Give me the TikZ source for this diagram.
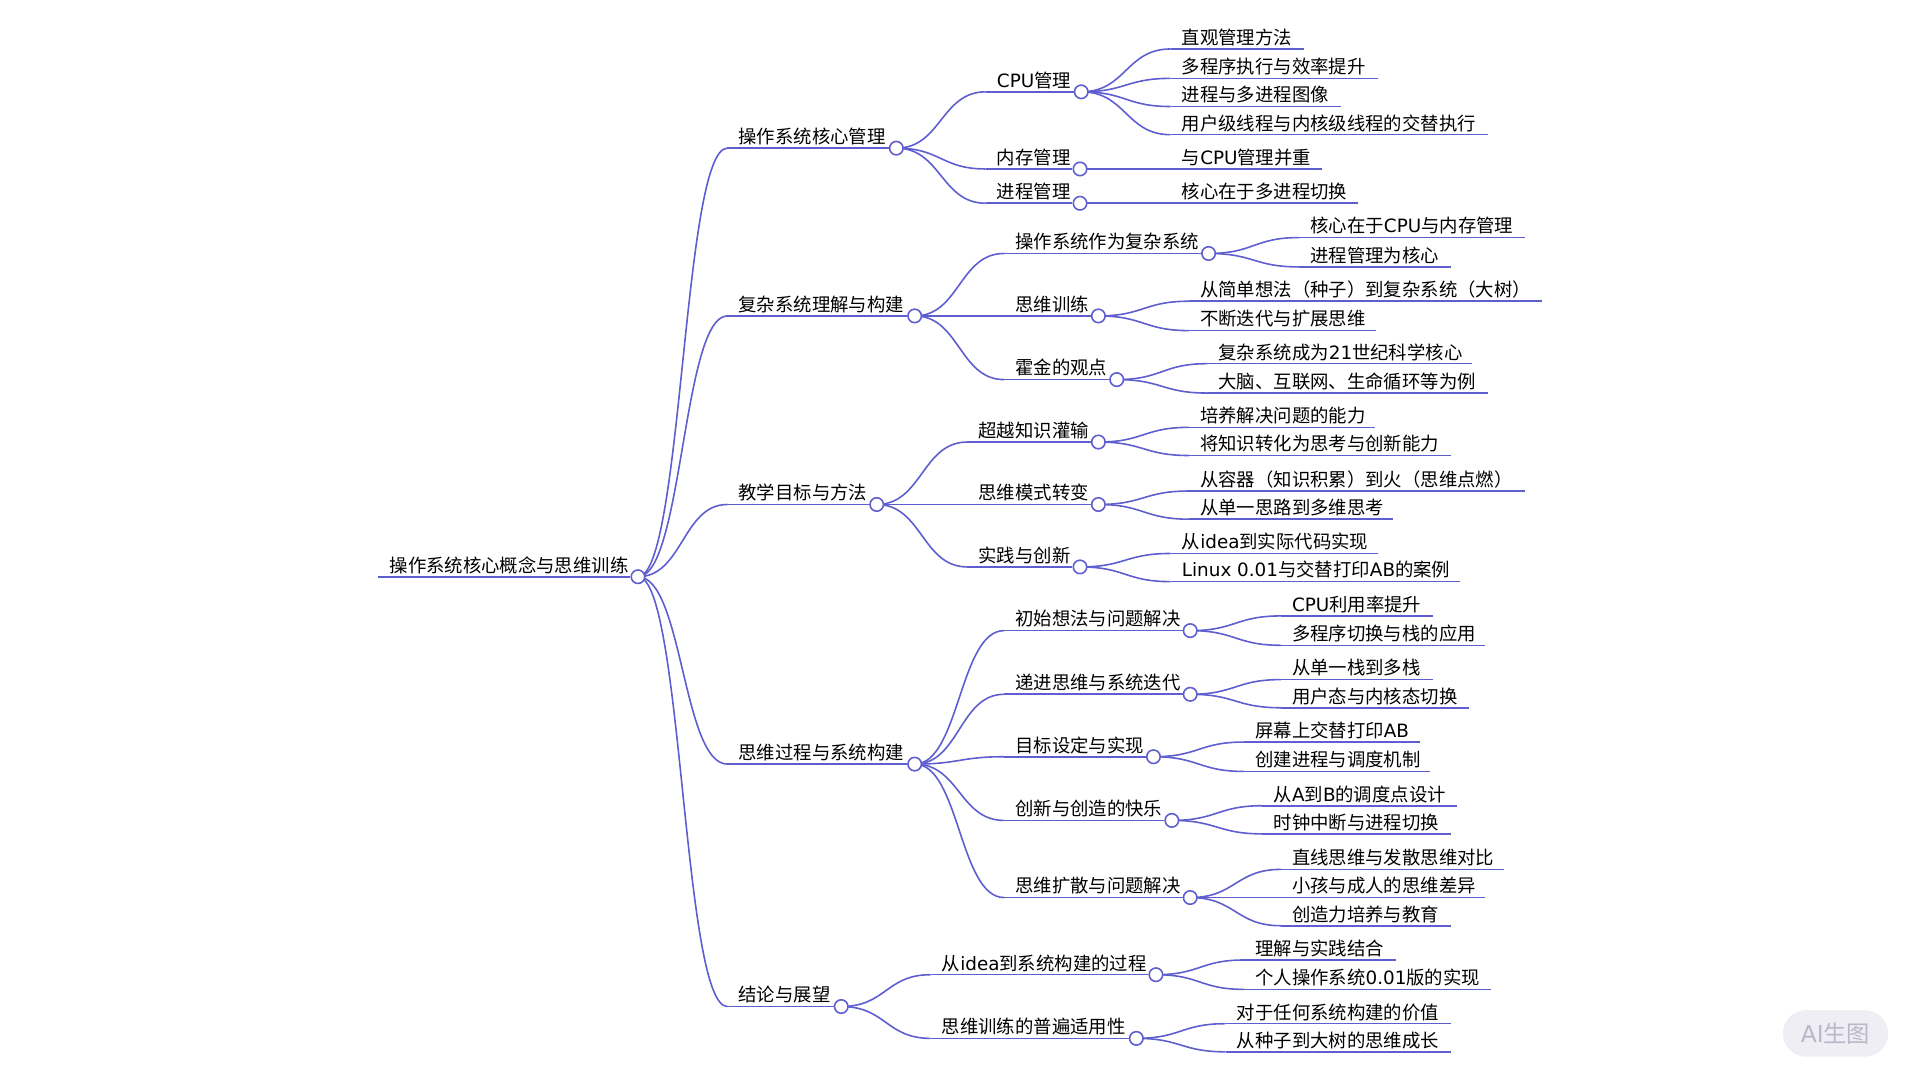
\documentclass[tikz,border=0pt]{standalone}
\usepackage{fontspec}
\usepackage{xcolor}
\usepackage{tikz}
\usetikzlibrary{calc}
\setmainfont{DejaVu Sans}
\newfontfamily\cjkfont{Noto Sans CJK SC}
\definecolor{mmblue}{RGB}{94,94,206}
\definecolor{wmfill}{RGB}{238,238,244}
\definecolor{wmtext}{RGB}{184,184,200}
\pgfdeclarelayer{bg}
\pgfsetlayers{bg,main}
% CJK characters take the CJK font
\XeTeXinterchartokenstate=1
\chardef\cjkclass=7
\newcount\cjkcode
\def\cjkrange#1#2{\cjkcode=#1 \loop\XeTeXcharclass\cjkcode=\cjkclass\ifnum\cjkcode<#2 \advance\cjkcode by 1 \repeat}
\cjkrange{"3000}{"303F}
\cjkrange{"4E00}{"9FFF}
\cjkrange{"FF00}{"FFEF}
\XeTeXinterchartoks 0 \cjkclass={\cjkfont}
\XeTeXinterchartoks 4095 \cjkclass={\cjkfont}
\XeTeXinterchartoks \cjkclass 0={\rmfamily}

\begin{document}
\begin{tikzpicture}[x=1pt,y=-1pt,
  mm/.style={draw=mmblue,line width=1.3pt},
  dot/.style={circle,mm,fill=white,inner sep=0pt,minimum size=11pt},
  lbl/.style={anchor=base west,inner sep=0pt,font=\fontsize{15}{18}\selectfont}]
\useasboundingbox (0,0) rectangle (1568,882);
% topics with a circle
\foreach \n/\tx/\xc/\y/\t in {
  root/318/521/471/操作系统核心概念与思维训练,
  a/603/732/121/操作系统核心管理,
  b/603/747/258/复杂系统理解与构建,
  c/603/716/412/教学目标与方法,
  d/603/747/624/思维过程与系统构建,
  e/603/687/822/结论与展望,
  a1/814/883/75/CPU管理,
  a2/814/882/138/内存管理,
  a3/814/882/166/进程管理,
  b1/829/987/207/操作系统作为复杂系统,
  b2/829/897/258/思维训练,
  b3/829/912/310/霍金的观点,
  c1/799/897/361/超越知识灌输,
  c2/799/897/412/思维模式转变,
  c3/799/882/463/实践与创新,
  d1/829/972/515/初始想法与问题解决,
  d2/829/972/567/递进思维与系统迭代,
  d3/829/942/618/目标设定与实现,
  d4/829/957/670/创新与创造的快乐,
  d5/829/972/733/思维扩散与问题解决,
  e1/769/944/796/从idea到系统构建的过程,
  e2/769/928/848/思维训练的普遍适用性}{
  \coordinate (\n-s) at (\tx-9,\y);
  \node[dot] (\n) at (\xc,\y) {};
  \draw[mm] (\n-s) -- (\n.west);
  \node[lbl] (\n-t) at (\tx,\y-3.8) {\t};
}
% leaves
\foreach \n/\tx/\xe/\y/\t in {
  a11/965/1065/40/直观管理方法,
  a12/965/1125/64/多程序执行与效率提升,
  a13/965/1095/87/进程与多进程图像,
  a14/965/1215/110/用户级线程与内核级线程的交替执行,
  a21/965/1080/138/与CPU管理并重,
  a31/965/1109/166/核心在于多进程切换,
  b11/1070/1245/194/核心在于CPU与内存管理,
  b12/1070/1185/218/进程管理为核心,
  b21/980/1259/246/从简单想法（种子）到复杂系统（大树）,
  b22/980/1124/270/不断迭代与扩展思维,
  b31/995/1202/297/复杂系统成为21世纪科学核心,
  b32/995/1215/321/大脑、互联网、生命循环等为例,
  c11/980/1123/349/培养解决问题的能力,
  c12/980/1185/372/将知识转化为思考与创新能力,
  c21/980/1245/401/从容器（知识积累）到火（思维点燃）,
  c22/980/1138/424/从单一思路到多维思考,
  c31/965/1125/452/从idea到实际代码实现,
  c32/965/1192/475/Linux 0.01与交替打印AB的案例,
  d11/1055/1170/503/CPU利用率提升,
  d12/1055/1213/527/多程序切换与栈的应用,
  d21/1055/1170/555/从单一栈到多栈,
  d22/1055/1200/578/用户态与内核态切换,
  d31/1025/1160/606/屏幕上交替打印AB,
  d32/1025/1168/630/创建进程与调度机制,
  d41/1040/1190/658/从A到B的调度点设计,
  d42/1040/1185/681/时钟中断与进程切换,
  d51/1055/1228/710/直线思维与发散思维对比,
  d52/1055/1213/733/小孩与成人的思维差异,
  d53/1055/1185/756/创造力培养与教育,
  e11/1025/1140/784/理解与实践结合,
  e12/1025/1218/808/个人操作系统0.01版的实现,
  e21/1010/1185/836/对于任何系统构建的价值,
  e22/1010/1185/859/从种子到大树的思维成长}{
  \coordinate (\n-s) at (\tx-9,\y);
  \coordinate (\n-e) at (\xe,\y);
  \draw[mm] (\n-s) -- (\n-e);
  \node[lbl] (\n-t) at (\tx,\y-3.8) {\t};
}
% branches
\begin{pgfonlayer}{bg}
\foreach \u/\v in {root/a,root/b,root/c,root/d,root/e,
  a/a1,a/a2,a/a3,b/b1,b/b2,b/b3,c/c1,c/c2,c/c3,
  d/d1,d/d2,d/d3,d/d4,d/d5,e/e1,e/e2,
  a1/a11,a1/a12,a1/a13,a1/a14,a2/a21,a3/a31,
  b1/b11,b1/b12,b2/b21,b2/b22,b3/b31,b3/b32,
  c1/c11,c1/c12,c2/c21,c2/c22,c3/c31,c3/c32,
  d1/d11,d1/d12,d2/d21,d2/d22,d3/d31,d3/d32,
  d4/d41,d4/d42,d5/d51,d5/d52,d5/d53,
  e1/e11,e1/e12,e2/e21,e2/e22}
  \draw[mm] let \p1=(\u), \p2=(\v-s) in
    (\p1) .. controls ({(\x1+\x2)/2},\y1) and ({(\x1+\x2)/2},\y2) .. (\p2);
\end{pgfonlayer}
% watermark
\node[fill=wmfill,rounded corners=19pt,minimum width=86pt,minimum height=38pt,
  text=wmtext,font=\fontsize{19}{22}\selectfont] (wm) at (1499,844) {AI生图};
\end{tikzpicture}
\end{document}
